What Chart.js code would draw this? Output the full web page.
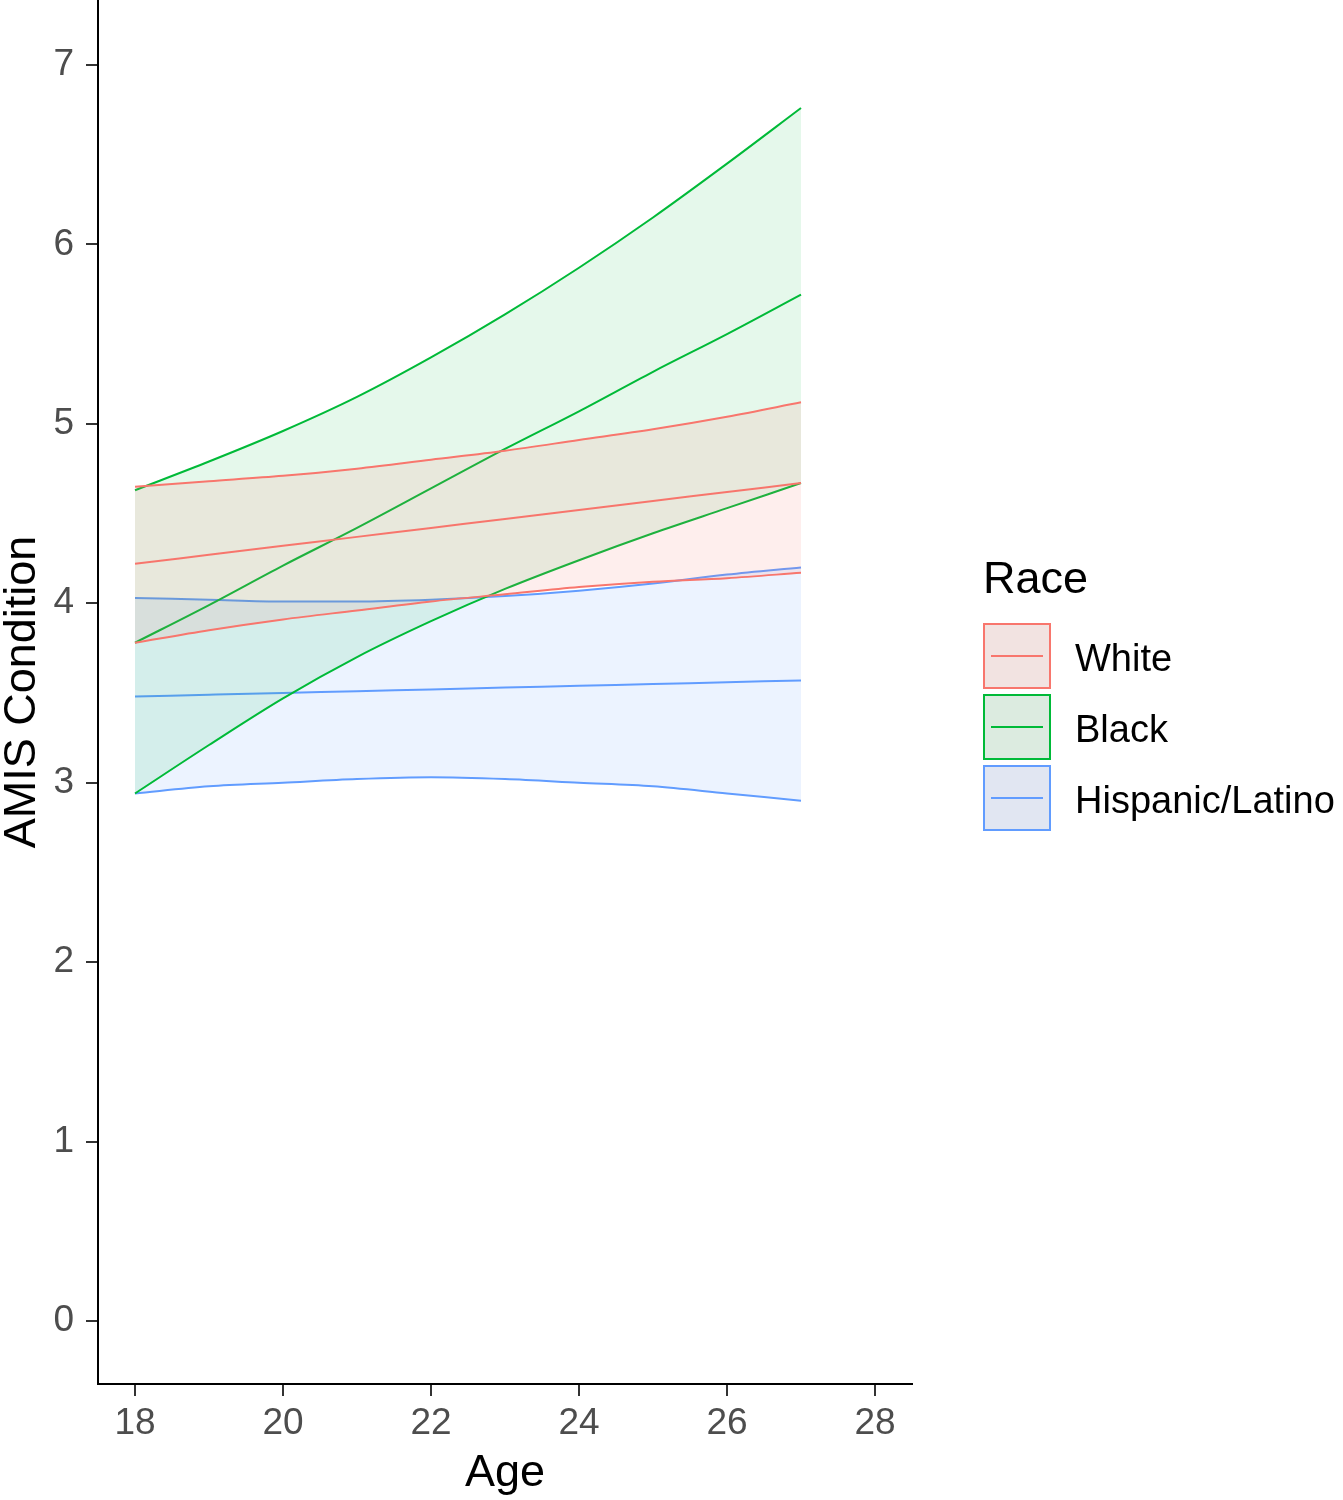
<!DOCTYPE html>
<html>
<head>
<meta charset="utf-8">
<script src="https://cdn.jsdelivr.net/npm/chart.js@4/dist/chart.umd.min.js"></script>
<style>
  html, body { margin: 0; padding: 0; background: #fff; }
  #wrap { position: relative; width: 1343px; height: 1500px; }
  canvas { position: absolute; left: 0; top: 0; }
  .legend { position: absolute; left: 983px; top: 548px; font-family: "Liberation Sans", Arial, sans-serif; }
  .legend .title { font-size: 45px; color: #000; line-height: 60px; height: 73px; }
  .legend .item { position: relative; height: 71px; }
  .legend .key { position: absolute; left: 0; top: 2px; width: 64px; height: 62px; border: 2px solid; }
  .legend .key .ln { position: absolute; left: 6px; right: 6px; top: 30px; height: 2px; }
  .legend .lab { position: absolute; left: 92px; top: 15px; font-size: 38px; color: #000; line-height: 44px; white-space: nowrap; }
</style>
</head>
<body>
<div id="wrap">
  <canvas id="c" width="1343" height="1500"></canvas>
  <div class="legend" id="legend"></div>
</div>
<script>
// ---- Data ----
const ages = [18, 19, 20, 21, 22, 23, 24, 25, 26, 27];
const raceNames = ["White", "Black", "Hispanic/Latino"];

const whiteFit   = [4.22, 4.27, 4.32, 4.37, 4.42, 4.47, 4.52, 4.57, 4.62, 4.67];
const whiteLower = [3.78, 3.85, 3.91, 3.96, 4.01, 4.05, 4.09, 4.12, 4.14, 4.17];
const whiteUpper = [4.65, 4.68, 4.71, 4.75, 4.80, 4.85, 4.91, 4.97, 5.04, 5.12];

const blackFit   = [3.78, 3.99, 4.21, 4.42, 4.64, 4.86, 5.07, 5.29, 5.50, 5.72];
const blackLower = [2.94, 3.21, 3.47, 3.70, 3.90, 4.08, 4.24, 4.39, 4.53, 4.67];
const blackUpper = [4.63, 4.79, 4.96, 5.15, 5.37, 5.61, 5.87, 6.15, 6.45, 6.76];

const hispFit    = [3.48, 3.49, 3.50, 3.51, 3.52, 3.53, 3.54, 3.55, 3.56, 3.57];
const hispLower  = [2.94, 2.98, 3.00, 3.02, 3.03, 3.02, 3.00, 2.98, 2.94, 2.90];
const hispUpper  = [4.03, 4.02, 4.01, 4.01, 4.02, 4.04, 4.07, 4.11, 4.16, 4.20];

const xTicks = [18, 20, 22, 24, 26, 28];
const yTicks = [0, 1, 2, 3, 4, 5, 6, 7];

// ---- Styling ----
const colors = ["#F8766D", "#00BA38", "#619CFF"];
const fills  = ["rgba(248,118,109,0.12)", "rgba(0,186,56,0.10)", "rgba(97,156,255,0.12)"];
const keyFills = ["#F2E3E1", "#DCEBE0", "#E1E6F2"];

function pts(arr) { return ages.map((a, i) => ({ x: a, y: arr[i] })); }

const groups = [
  [whiteLower, whiteUpper, whiteFit],
  [blackLower, blackUpper, blackFit],
  [hispLower, hispUpper, hispFit]
];

const datasets = [];
groups.forEach((g, k) => {
  const base = { borderColor: colors[k], borderWidth: 2, pointRadius: 0, cubicInterpolationMode: "monotone", showLine: true };
  datasets.push(Object.assign({}, base, { label: raceNames[k] + " lower", data: pts(g[0]), fill: false }));
  datasets.push(Object.assign({}, base, { label: raceNames[k] + " upper", data: pts(g[1]), fill: "-1", backgroundColor: fills[k] }));
  datasets.push(Object.assign({}, base, { label: raceNames[k], data: pts(g[2]), fill: false }));
});

const tickFont = { family: "'Liberation Sans', Arial, sans-serif", size: 37 };
const titleFont = { family: "'Liberation Sans', Arial, sans-serif", size: 45, lineHeight: 1 };

new Chart(document.getElementById("c"), {
  type: "line",
  data: { datasets },
  options: {
    responsive: false,
    animation: false,
    layout: { padding: { left: 0, right: 431, top: 0, bottom: 0 } },
    plugins: { legend: { display: false }, tooltip: { enabled: false } },
    scales: {
      x: {
        type: "linear", min: 17.5, max: 28.5,
        afterBuildTicks: s => { s.ticks = xTicks.map(v => ({ value: v })); },
        afterFit: s => { s.height = 116; s.paddingLeft = 0; s.paddingRight = 0; },
        ticks: { font: tickFont, color: "#4D4D4D", padding: 6, maxRotation: 0, autoSkip: false },
        grid: { drawOnChartArea: false, drawTicks: true, tickLength: 12, color: "#333", lineWidth: 2 },
        border: { display: true, color: "#000", width: 2 },
        title: { display: true, text: "Age", font: titleFont, color: "#000", padding: { top: 0, bottom: 4 } }
      },
      y: {
        type: "linear", min: -0.351, max: 7.362,
        afterBuildTicks: s => { s.ticks = yTicks.map(v => ({ value: v })); },
        afterFit: s => { s.width = 98; s.paddingTop = 0; s.paddingBottom = 0; },
        ticks: { font: tickFont, color: "#4D4D4D", padding: 12, autoSkip: false },
        grid: { drawOnChartArea: false, drawTicks: true, tickLength: 12, color: "#333", lineWidth: 2 },
        border: { display: true, color: "#000", width: 2 },
        title: { display: true, text: "AMIS Condition", font: titleFont, color: "#000", padding: { top: 0, bottom: 0 } }
      }
    }
  }
});

// ---- Legend (HTML text) ----
const lg = document.getElementById("legend");
let html = '<div class="title">Race</div>';
raceNames.forEach((n, k) => {
  html += '<div class="item"><div class="key" style="border-color:' + colors[k] + ';background:' + keyFills[k] + '"><div class="ln" style="background:' + colors[k] + '"></div></div><div class="lab">' + n + '</div></div>';
});
lg.innerHTML = html;
</script>
</body>
</html>
